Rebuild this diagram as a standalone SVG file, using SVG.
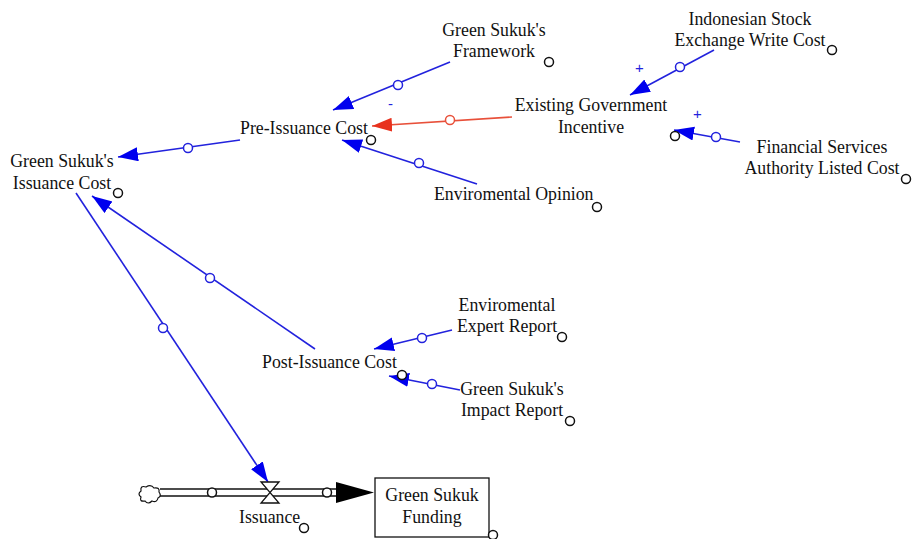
<svg xmlns="http://www.w3.org/2000/svg" width="912" height="539" viewBox="0 0 912 539">
<style>
text{font-family:"Liberation Serif","Times New Roman",serif;font-size:17.8px;fill:#111;}
.c{text-anchor:middle;}
.lk{stroke:#2222dd;stroke-width:1.6;fill:none;marker-end:url(#ab);}
.lr{stroke:#e8503a;stroke-width:1.6;fill:none;marker-end:url(#ar);}
.bc{fill:#fff;stroke:#2222dd;stroke-width:1.5;}
.rc{fill:#fff;stroke:#e8503a;stroke-width:1.5;}
.kc{fill:#fff;stroke:#111;stroke-width:1.5;}
.sg{font-family:"Liberation Sans",Arial,sans-serif;font-size:15px;fill:#2222dd;}
</style>
<defs>
<marker id="ab" markerUnits="userSpaceOnUse" markerWidth="22" markerHeight="16" refX="20" refY="7" orient="auto"><path d="M0,0 L20,7 L0,14 Z" fill="#0000ee"/></marker>
<marker id="ar" markerUnits="userSpaceOnUse" markerWidth="22" markerHeight="16" refX="20" refY="7" orient="auto"><path d="M0,0 L20,7 L0,14 Z" fill="#e8321e"/></marker>
</defs>
<rect width="912" height="539" fill="#fff"/>

<g id="connectors">
<path class="lk" d="M450,62 L333,110"/><circle class="bc" cx="398" cy="85" r="4.5"/>
<path class="lr" d="M512,117 L372,126"/><circle class="rc" cx="450" cy="120" r="4.5"/>
<text class="sg" x="388" y="109">-</text>
<path class="lk" d="M477,184 L342,140"/><circle class="bc" cx="419" cy="163" r="4.5"/>
<path class="lk" d="M240,140 L118,157"/><circle class="bc" cx="188" cy="148" r="4.5"/>
<path class="lk" d="M315,349 L92,196"/><circle class="bc" cx="210" cy="278" r="4.5"/>
<path class="lk" d="M76,193 L268,482"/><circle class="bc" cx="163" cy="328" r="4.5"/>
<path class="lk" d="M714,50 L630,95"/><circle class="bc" cx="680" cy="67" r="4.5"/>
<text class="sg" x="635" y="73">+</text>
<path class="lk" d="M740,142 L674,130"/><circle class="bc" cx="716" cy="137" r="4.5"/>
<text class="sg" x="693" y="119">+</text>
<path class="lk" d="M452,330 L374,349"/><circle class="bc" cx="422" cy="338" r="4.5"/>
<path class="lk" d="M460,390 L389,376"/><circle class="bc" cx="432" cy="384" r="4.5"/>
</g>

<g id="flow-issuance">
<path d="M146,487 q-6,-2 -5,4 q-4,3 0,6 q-2,5 4,4 q3,4 7,0 q5,2 6,-3 q4,-2 1,-6 q1,-5 -5,-4 q-3,-4 -8,-1 Z" fill="#fff" stroke="#111" stroke-width="1.2"/>
<line x1="160" y1="489" x2="340" y2="489" stroke="#111" stroke-width="1.5"/>
<line x1="160" y1="496" x2="340" y2="496" stroke="#111" stroke-width="1.5"/>
<path d="M336,482 L374,492.5 L336,503 Z" fill="#000"/>
<circle class="kc" cx="212" cy="492.5" r="4.5"/>
<circle class="kc" cx="327" cy="492.5" r="4.5"/>
<path d="M261,482 L279,482 L261,503 L279,503 Z" fill="#fff" stroke="#111" stroke-width="1.3"/>
<text x="239" y="523">Issuance</text>
<circle class="kc" cx="304" cy="528" r="4.5"/>
</g>

<g id="stock-funding">
<rect x="375" y="478" width="114" height="59" fill="#fff" stroke="#111" stroke-width="1.3"/>
<text class="c" x="432" y="501">Green Sukuk</text>
<text class="c" x="432" y="523">Funding</text>
<circle class="kc" cx="493" cy="535" r="4.5"/>
</g>

<g id="issuance-cost">
<text class="c" x="62" y="167">Green Sukuk's</text>
<text class="c" x="62" y="189">Issuance Cost</text>
<circle class="kc" cx="118" cy="193" r="4.5"/>
</g>

<g id="pre-issuance">
<text x="240" y="134">Pre-Issuance Cost</text>
<circle class="kc" cx="371" cy="140" r="4.5"/>
</g>

<g id="framework">
<text class="c" x="494" y="36">Green Sukuk's</text>
<text class="c" x="494" y="57">Framework</text>
<circle class="kc" cx="549" cy="62" r="4.5"/>
</g>

<g id="gov-incentive">
<text class="c" x="591" y="111">Existing Government</text>
<text class="c" x="591" y="133">Incentive</text>
<circle class="kc" cx="675" cy="136" r="4.5"/>
</g>

<g id="idx-cost">
<text class="c" x="750" y="25">Indonesian Stock</text>
<text class="c" x="750" y="46">Exchange Write Cost</text>
<circle class="kc" cx="832" cy="50" r="4.5"/>
</g>

<g id="ojk-cost">
<text class="c" x="822" y="153">Financial Services</text>
<text class="c" x="822" y="174">Authority Listed Cost</text>
<circle class="kc" cx="906" cy="179" r="4.5"/>
</g>

<g id="env-opinion">
<text x="434" y="200">Enviromental Opinion</text>
<circle class="kc" cx="597" cy="207" r="4.5"/>
</g>

<g id="post-issuance">
<text x="262" y="368">Post-Issuance Cost</text>
<circle class="kc" cx="402" cy="375" r="4.5"/>
</g>

<g id="expert-report">
<text class="c" x="507" y="311">Enviromental</text>
<text class="c" x="507" y="332">Expert Report</text>
<circle class="kc" cx="562" cy="337" r="4.5"/>
</g>

<g id="impact-report">
<text class="c" x="512" y="395">Green Sukuk's</text>
<text class="c" x="512" y="416">Impact Report</text>
<circle class="kc" cx="570" cy="421" r="4.5"/>
</g>
</svg>
